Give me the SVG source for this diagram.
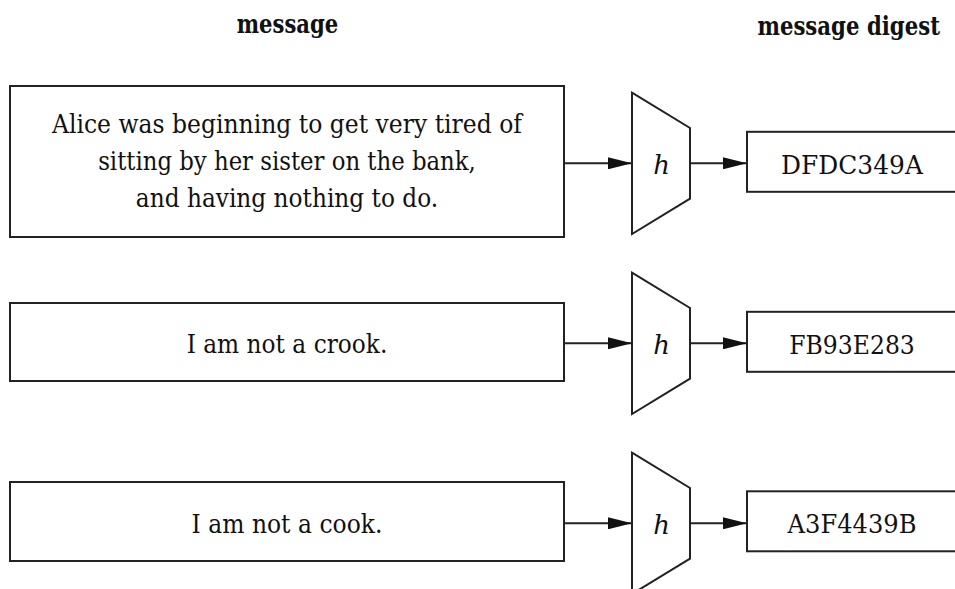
<svg xmlns="http://www.w3.org/2000/svg" width="955" height="589" viewBox="0 0 955 589">
<style>
.box{fill:#fff;stroke:#222;stroke-width:2}
.hash{fill:#fff;stroke:#222;stroke-width:2;stroke-linejoin:miter}
.msg{font-size:26px;text-anchor:middle}
.dig{font-size:25.5px;text-anchor:middle}
.h{font-size:26px;font-style:italic;text-anchor:middle}
.hdr{font-weight:bold}
.con{stroke:#222;stroke-width:2;fill:none;marker-end:url(#arr)}
</style>
<defs>
<marker id="arr" markerWidth="12" markerHeight="6" refX="12" refY="3" orient="auto" markerUnits="strokeWidth">
<path d="M0,0 L12,3 L0,6 Z" fill="#111"/>
</marker>
</defs>
<g font-family="'DejaVu Serif', 'Liberation Serif', serif" fill="#111">
<g id="headers">
<text class="hdr" x="287.5" y="33" font-size="25.5" text-anchor="middle" textLength="101.6" lengthAdjust="spacingAndGlyphs">message</text>
<text class="hdr" x="940" y="35" font-size="26" text-anchor="end" textLength="182.6" lengthAdjust="spacingAndGlyphs">message digest</text>
</g>
<g id="connectors">
<line class="con" x1="564" y1="163.3" x2="632" y2="163.3"/>
<line class="con" x1="690" y1="163.3" x2="747" y2="163.3"/>
<line class="con" x1="564" y1="343.3" x2="632" y2="343.3"/>
<line class="con" x1="690" y1="343.3" x2="747" y2="343.3"/>
<line class="con" x1="564" y1="523.3" x2="632" y2="523.3"/>
<line class="con" x1="690" y1="523.3" x2="747" y2="523.3"/>
</g>
<g id="msg1">
<rect class="box" x="10" y="86" width="554" height="151"/>
<text class="msg" x="287" y="133.3" textLength="470" lengthAdjust="spacingAndGlyphs">Alice was beginning to get very tired of</text>
<text class="msg" x="287" y="170" textLength="377.7" lengthAdjust="spacingAndGlyphs">sitting by her sister on the bank,</text>
<text class="msg" x="287" y="206.7" textLength="302.4" lengthAdjust="spacingAndGlyphs">and having nothing to do.</text>
</g>
<g id="msg2">
<rect class="box" x="10" y="303" width="554" height="78"/>
<text class="msg" x="287" y="353" textLength="200.7" lengthAdjust="spacingAndGlyphs">I am not a crook.</text>
</g>
<g id="msg3">
<rect class="box" x="10" y="482" width="554" height="79"/>
<text class="msg" x="287" y="532.7" textLength="190.9" lengthAdjust="spacingAndGlyphs">I am not a cook.</text>
</g>
<g id="hash1">
<polygon class="hash" points="632,92.7 690,128 690,198.6 632,234"/>
<text class="h" x="661.7" y="174">h</text>
</g>
<g id="hash2">
<polygon class="hash" points="632,272.7 690,308 690,378.6 632,414"/>
<text class="h" x="661.7" y="354">h</text>
</g>
<g id="hash3">
<polygon class="hash" points="632,452.7 690,488 690,558.6 632,594"/>
<text class="h" x="661.7" y="534">h</text>
</g>
<g id="digest1">
<rect class="box" x="747" y="131.8" width="240" height="60"/>
<text class="dig" x="852" y="174.3" textLength="141.8" lengthAdjust="spacingAndGlyphs">DFDC349A</text>
</g>
<g id="digest2">
<rect class="box" x="747" y="311.8" width="240" height="60"/>
<text class="dig" x="852" y="353.5" textLength="125.7" lengthAdjust="spacingAndGlyphs">FB93E283</text>
</g>
<g id="digest3">
<rect class="box" x="747" y="491.3" width="240" height="60"/>
<text class="dig" x="852" y="532.9" textLength="128.9" lengthAdjust="spacingAndGlyphs">A3F4439B</text>
</g>
</g>
</svg>
